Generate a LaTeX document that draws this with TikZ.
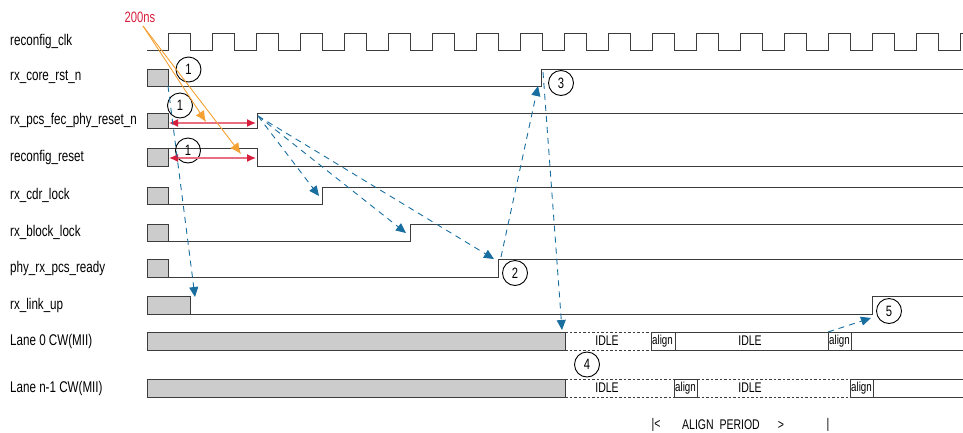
\documentclass[tikz,border=0pt]{standalone}
\usepackage{fontspec}
\setmainfont{Liberation Sans}[FakeStretch=0.75]
\usetikzlibrary{arrows.meta, positioning, calc}
\definecolor{wavegray}{RGB}{60, 60, 60}
\definecolor{busgray}{RGB}{204, 204, 204}
\definecolor{seqblue}{RGB}{25, 110, 160}
\definecolor{spanred}{RGB}{215, 30, 60}
\definecolor{spanpink}{RGB}{232, 110, 130}
\definecolor{noteorange}{RGB}{245, 160, 50}
\tikzset{
  wave/.style={draw=wavegray, line width=1pt},
  initbox/.style={draw=wavegray, fill=busgray, line width=1pt},
  idlewave/.style={draw=wavegray, line width=1pt, dash pattern=on 2.5pt off 2pt},
  siglabel/.style={anchor=west, inner sep=0pt, font=\fontsize{15.5}{17}\selectfont},
  stepnum/.style={draw=black, circle, minimum size=25pt, inner sep=0pt, line width=0.9pt, font=\fontsize{15}{17}\selectfont},
  idletext/.style={inner sep=0pt, font=\fontsize{14}{16}\selectfont},
  aligntext/.style={anchor=west, inner sep=1pt, font=\fontsize{13}{15}\selectfont},
  seqarrow/.style={draw=seqblue, line width=0.9pt, dash pattern=on 6pt off 5pt, -{Triangle[length=10pt, width=9pt]}},
  spanarrow/.style={draw=spanpink, line width=1.3pt, {Latex[length=9pt, width=8pt, color=spanred]}-{Latex[length=9pt, width=8pt, color=spanred]}},
  notearrow/.style={draw=noteorange, line width=0.9pt, -{Latex[length=11pt, width=10pt]}}
}

\begin{document}
\begin{tikzpicture}[x=1pt, y=-1pt]
  \useasboundingbox (0,0) rectangle (963,432);

  % Signal names
  \node[siglabel] (lclk)   at (10,41.5) {reconfig\_clk};
  \node[siglabel] (lcore)  at (10,77.5) {rx\_core\_rst\_n};
  \node[siglabel] (lpcs)   at (10,120.5) {rx\_pcs\_fec\_phy\_reset\_n};
  \node[siglabel] (lreset) at (10,157) {reconfig\_reset};
  \node[siglabel] (lcdr)   at (10,195.5) {rx\_cdr\_lock};
  \node[siglabel] (lblock) at (10,232.5) {rx\_block\_lock};
  \node[siglabel] (lready) at (10,268) {phy\_rx\_pcs\_ready};
  \node[siglabel] (llink)  at (10,305) {rx\_link\_up};
  \node[siglabel] (llane0) at (10,341) {Lane 0 CW(MII)};
  \node[siglabel] (llanen) at (10,388) {Lane n-1 CW(MII)};

  % Clock
  \begin{scope}
    \clip (140,20) rectangle (963,60);
    \draw[wave] (147,50) \foreach \k in {0,...,18} {
      -- (168+44*\k,50) -- (168+44*\k,33) -- (190+44*\k,33) -- (190+44*\k,50)
    };
  \end{scope}

  % Reset and lock signals
  \draw[initbox] (147,69) rectangle (168,86);
  \draw[wave] (168,86) -- (541,86) -- (541,69) -- (963,69);
  \draw[initbox] (147,113) rectangle (168,128);
  \draw[wave] (168,128) -- (257,128) -- (257,113) -- (963,113);
  \draw[initbox] (147,148) rectangle (168,166);
  \draw[wave] (168,148) -- (257,148) -- (257,166) -- (963,166);
  \draw[initbox] (147,187) rectangle (168,204);
  \draw[wave] (168,204) -- (322,204) -- (322,187) -- (963,187);
  \draw[initbox] (147,224) rectangle (168,241);
  \draw[wave] (168,241) -- (410,241) -- (410,224) -- (963,224);
  \draw[initbox] (147,259) rectangle (168,277);
  \draw[wave] (168,277) -- (498,277) -- (498,259) -- (963,259);
  \draw[initbox] (147,296) rectangle (190,314);
  \draw[wave] (190,314) -- (872,314) -- (872,296) -- (963,296);

  % Lane 0
  \draw[initbox] (147,332) rectangle (565,350);
  \draw[idlewave] (565,332) -- (651,332) (565,350) -- (651,350);
  \node[idletext] (idle0a) at (607,341) {IDLE};
  \draw[wave] (651,332) rectangle (675,350);
  \node[aligntext] (align0a) at (651,341) {align};
  \draw[wave] (675,332) -- (828,332) (675,350) -- (828,350);
  \node[idletext] (idle0b) at (750,341) {IDLE};
  \draw[wave] (828,332) rectangle (851,350);
  \node[aligntext] (align0b) at (828,341) {align};
  \draw[wave] (851,332) -- (963,332) (851,350) -- (963,350);

  % Lane n-1
  \draw[initbox] (147,379) rectangle (565,397);
  \draw[idlewave] (565,379) -- (674,379) (565,397) -- (674,397);
  \node[idletext] (idlena) at (607,388) {IDLE};
  \draw[wave] (674,379) rectangle (697,397);
  \node[aligntext] (alignna) at (674,388) {align};
  \draw[idlewave] (697,379) -- (850,379) (697,397) -- (850,397);
  \node[idletext] (idlenb) at (750,388) {IDLE};
  \draw[wave] (850,379) rectangle (873,397);
  \node[aligntext] (alignnb) at (850,388) {align};
  \draw[wave] (873,379) -- (963,379) (873,397) -- (963,397);

  % Align period
  \node[idletext] (apleft)  at (656,425) {|<};
  \node[idletext] (aptext)  at (721,425) {ALIGN\ \ PERIOD};
  \node[idletext] (apgt)    at (781,425) {>};
  \node[idletext] (apright) at (828,425) {|};

  % Step numbers
  \node[stepnum] (c1a) at (188.5,69.5) {1};
  \node[stepnum] (c1b) at (180,105.5) {1};
  \node[stepnum] (c1c) at (188,150.5) {1};
  \node[stepnum] (c2) at (515,273) {2};
  \node[stepnum] (c3) at (561,83) {3};
  \node[stepnum] (c4) at (587,364.5) {4};
  \node[stepnum] (c5) at (889,311) {5};

  % 200ns span
  \node[text=spanred, inner sep=0pt, font=\fontsize{15}{17}\selectfont] (ns) at (140,17) {200ns};
  \coordinate (pcsL) at (169,123);
  \coordinate (pcsR) at (256,123);
  \coordinate (rstL) at (169,158);
  \coordinate (rstR) at (256,158);
  \draw[spanarrow] (pcsL) -- (pcsR);
  \draw[spanarrow] (rstL) -- (rstR);
  \coordinate (nsfoot) at (143,26);
  \coordinate (pcsnote) at (206,122);
  \coordinate (rstnote) at (241,154);
  \draw[notearrow] (nsfoot) -- (pcsnote);
  \draw[notearrow] (nsfoot) -- (rstnote);

  % Sequence
  \coordinate (coreinit) at (168,86);
  \coordinate (linkhit) at (195,297);
  \coordinate (pcsedge) at (258,116);
  \coordinate (cdrhit) at (319,196);
  \coordinate (blockhit) at (406,233);
  \coordinate (readyhit) at (494,259);
  \coordinate (readyedge) at (501,257);
  \coordinate (corehit) at (538,86);
  \coordinate (coreedge) at (543,72);
  \coordinate (lanehit) at (562,330);
  \coordinate (alignedge) at (828,332);
  \coordinate (linkrise) at (871,318);
  \draw[seqarrow] (coreinit) -- (linkhit);
  \draw[seqarrow] (pcsedge) -- (cdrhit);
  \draw[seqarrow] (pcsedge) -- (blockhit);
  \draw[seqarrow] (pcsedge) -- (readyhit);
  \draw[seqarrow] (readyedge) -- (corehit);
  \draw[seqarrow] (coreedge) -- (lanehit);
  \draw[seqarrow] (alignedge) -- (linkrise);
\end{tikzpicture}
\end{document}
